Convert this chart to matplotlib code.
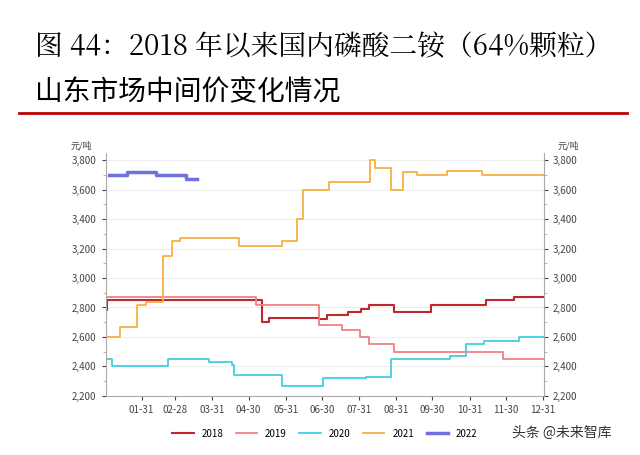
import matplotlib
matplotlib.use("Agg")
import matplotlib.pyplot as plt
from matplotlib.ticker import MultipleLocator

plt.rcParams['font.family'] = ['Noto Sans CJK SC', 'DejaVu Sans']

# step series: (day-of-year where value starts, value)
d2018 = [0, 1, 130, 136, 178, 184, 202, 213, 219, 240, 271, 317, 340, 365]
v2018 = [2780, 2850, 2700, 2730, 2720, 2750, 2770, 2790, 2820, 2770, 2820, 2850, 2870, 2870]
d2019 = [0, 125, 178, 197, 212, 219, 240, 331, 365]
v2019 = [2870, 2820, 2680, 2650, 2600, 2550, 2500, 2450, 2450]
d2020 = [0, 5.5, 52, 86, 105, 107, 147, 181, 217, 238, 287, 300, 315, 344, 365]
v2020 = [2450, 2400, 2450, 2430, 2410, 2340, 2270, 2320, 2330, 2450, 2470, 2550, 2570, 2600, 2600]
d2021 = [0, 12, 26, 34, 48, 55, 62, 111, 147, 159, 164, 186, 220, 224, 238, 248, 259, 284, 313, 365]
v2021 = [2600, 2670, 2820, 2840, 3150, 3250, 3270, 3220, 3250, 3400, 3600, 3650, 3800, 3750, 3600, 3720, 3700, 3730, 3700, 3700]
d2022 = [3, 17.5, 42, 67, 76]
v2022 = [3700, 3720, 3700, 3670, 3670]

tick_days = [30, 58, 89, 119, 150, 180, 211, 242, 272, 303, 333, 364]
tick_labels = ['01-31', '02-28', '03-31', '04-30', '05-31', '06-30', '07-31', '08-31', '09-30', '10-31', '11-30', '12-31']

fig = plt.figure(figsize=(6.4, 4.55), dpi=100)
fig.text(0.055, 0.895, '图 44：2018 年以来国内磷酸二铵（64%颗粒）', fontsize=20, family=['Noto Serif CJK SC', 'Noto Sans CJK SC', 'DejaVu Serif'], va='center')
fig.text(0.055, 0.797, '山东市场中间价变化情况', fontsize=20, va='center')
fig.add_artist(plt.Line2D([0.03, 0.98], [0.752, 0.752], color='#c00000', lw=2))

ax = fig.add_axes([0.165, 0.13, 0.685, 0.534])
series = [(d2018, v2018, '#c0272d', 1.5, '2018'), (d2019, v2019, '#f08080', 1.3, '2019'),
          (d2020, v2020, '#40d0e0', 1.3, '2020'), (d2021, v2021, '#f8b040', 1.3, '2021'),
          (d2022, v2022, '#7070e0', 2.5, '2022')]
for d, v, c, lw, lab in series:
    ax.step(d, v, where='post', color=c, lw=lw, label=lab)
ax.set_xlim(0, 365)
ax.set_ylim(2200, 3850)
ax.set_xticks(tick_days)
ax.set_xticklabels(tick_labels)
ax.yaxis.set_major_locator(MultipleLocator(200))
ax.yaxis.set_minor_locator(MultipleLocator(100))
ax.yaxis.set_major_formatter(lambda x, p: f'{int(x):,}')
ax.grid(axis='y', color='#eeeeee', lw=0.8)
for s in ['top', 'right']:
    ax.spines[s].set_visible(False)
for s in ['left', 'bottom']:
    ax.spines[s].set_color('#aaaaaa')
ax.tick_params(labelsize=7, colors='#444444', length=3)
ax.tick_params(which='minor', length=2, color='#aaaaaa')
ax2 = ax.twinx()
ax2.set_ylim(ax.get_ylim())
ax2.yaxis.set_major_locator(MultipleLocator(200))
ax2.yaxis.set_minor_locator(MultipleLocator(100))
ax2.yaxis.set_major_formatter(lambda x, p: f'{int(x):,}')
for s in ['top', 'left', 'bottom']:
    ax2.spines[s].set_visible(False)
ax2.spines['right'].set_color('#aaaaaa')
ax2.tick_params(labelsize=7, colors='#444444', length=3)
ax2.tick_params(which='minor', length=2, color='#aaaaaa')
ax.text(-0.03, 1.02, '元/吨', transform=ax.transAxes, fontsize=6.5, ha='right', color='#444444')
ax.text(1.03, 1.02, '元/吨', transform=ax.transAxes, fontsize=6.5, ha='left', color='#444444')
ax.legend(loc='upper center', bbox_to_anchor=(0.5, -0.1), ncol=5, frameon=False, fontsize=7, handlelength=2.2, columnspacing=1.3)
fig.text(0.8, 0.04, '头条 @未来智库', fontsize=10, color='#333333')
fig.savefig('out.png', dpi=100)
